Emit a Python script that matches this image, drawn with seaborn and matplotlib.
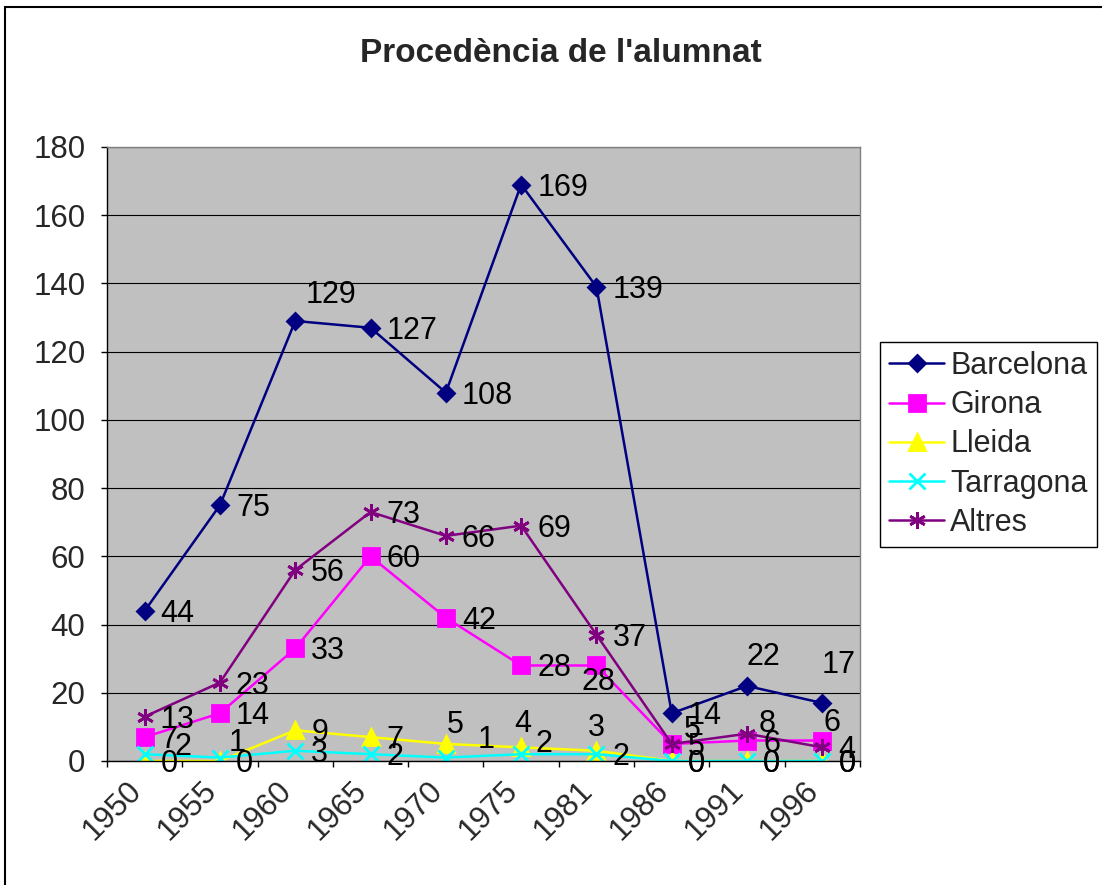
import numpy as np
import pandas as pd
import matplotlib
matplotlib.use('Agg')
import matplotlib.pyplot as plt
import matplotlib.patches as mpatches
from matplotlib.transforms import ScaledTranslation
import seaborn as sns

# Data
years = ['1950', '1955', '1960', '1965', '1970', '1975', '1981', '1986', '1991', '1996']
barcelona = [44, 75, 129, 127, 108, 169, 139, 14, 22, 17]
girona = [7, 14, 33, 60, 42, 28, 28, 5, 6, 6]
lleida = [0, 0, 9, 7, 5, 4, 3, 0, 0, 0]
tarragona = [2, 1, 3, 2, 1, 2, 2, 0, 0, 0]
altres = [13, 23, 56, 73, 66, 69, 37, 5, 8, 4]

series_names = ['Barcelona', 'Girona', 'Lleida', 'Tarragona', 'Altres']
series_values = [barcelona, girona, lleida, tarragona, altres]

colors = {'Barcelona': '#000080', 'Girona': '#FF00FF', 'Lleida': '#FFFF00',
          'Tarragona': '#00FFFF', 'Altres': '#800080'}
markers = {'Barcelona': 'D', 'Girona': 's', 'Lleida': '^', 'Tarragona': 'x', 'Altres': (6, 2, 0)}
msizes = {'Barcelona': 8, 'Girona': 11, 'Lleida': 11, 'Tarragona': 11, 'Altres': 12}

# long format table
rows = []
for name, vals in zip(series_names, series_values):
    for i, v in enumerate(vals):
        rows.append({'pos': i, 'year': years[i], 'serie': name, 'value': v})
df = pd.DataFrame(rows)

sns.set_theme(style='white')
plt.rcParams['font.family'] = ['Liberation Sans', 'DejaVu Sans']

fig = plt.figure(figsize=(11.02, 8.85), dpi=100)
ax = fig.add_axes([107 / 1102, 1 - 761 / 885, (860 - 107) / 1102, (761 - 147) / 885])
ax.set_facecolor('#C0C0C0')

for name in series_names:
    sub = df[df['serie'] == name]
    sns.lineplot(data=sub, x='pos', y='value', ax=ax, color=colors[name],
                 marker=markers[name], markersize=msizes[name],
                 markeredgecolor=colors[name], markerfacecolor=colors[name],
                 markeredgewidth=2, linewidth=1.8, label=name, legend=False)

# data labels: default to the right, some moved (offsets in pixels)
px = 0.72
overrides = {
    ('Barcelona', 2): (10, 26, 'left'),
    ('Barcelona', 8): (16, 29, 'center'),
    ('Barcelona', 9): (16, 38, 'center'),
    ('Girona', 6): (2, -17, 'center'),
    ('Girona', 9): (10, 18, 'center'),
    ('Altres', 7): (12, 14, 'left'),
    ('Altres', 8): (12, 10, 'left'),
    ('Lleida', 4): (9, 19, 'center'),
    ('Lleida', 5): (2, 23, 'center'),
    ('Lleida', 6): (0, 23, 'center'),
    ('Tarragona', 0): (30, 7, 'left'),
    ('Tarragona', 1): (9, 15, 'left'),
    ('Tarragona', 4): (32, 18, 'left'),
    ('Tarragona', 5): (14, 10, 'left'),
}
for name, vals in zip(series_names, series_values):
    for i, v in enumerate(vals):
        dx, dy, ha = overrides.get((name, i), (16, -3, 'left'))
        ax.annotate(str(v), (i, v), xytext=(dx * px, dy * px), textcoords='offset points',
                    ha=ha, va='center', fontsize=22, color='black', annotation_clip=False)

ax.set_xlim(-0.5, len(years) - 0.5)
ax.set_ylim(0, 180)
ax.set_yticks(np.arange(0, 181, 20))
ax.tick_params(axis='y', labelsize=22.5, length=4.5, width=1, pad=11, left=True, color='black')
ax.set_xticks(np.arange(len(years)))
ax.set_xticklabels(years, rotation=45, ha='right', va='center', rotation_mode='anchor', fontsize=22.5)
ax.set_xticks(np.arange(-0.5, len(years), 1), minor=True)
ax.tick_params(axis='x', which='major', length=0, pad=18)
ax.tick_params(axis='x', which='minor', length=4.5, width=1, bottom=True, color='black')
for lab in ax.get_xticklabels():
    lab.set_transform(lab.get_transform() + ScaledTranslation(-8 / 100, 0, fig.dpi_scale_trans))
ax.set_xlabel('')
ax.set_ylabel('')

ax.yaxis.grid(True, color='black', linewidth=0.8)
ax.xaxis.grid(False)
ax.set_axisbelow(True)
for side in ['left', 'bottom']:
    ax.spines[side].set_color('black')
    ax.spines[side].set_linewidth(1)
for side in ['top', 'right']:
    ax.spines[side].set_color('#808080')
    ax.spines[side].set_linewidth(1)

leg = ax.legend(loc='upper left', bbox_to_anchor=(880 / 1102, 1 - 342 / 885),
                bbox_transform=fig.transFigure, fontsize=22, frameon=True, fancybox=False,
                edgecolor='black', framealpha=1, borderaxespad=0, handlelength=1.8,
                handletextpad=0.2, labelspacing=0.3, borderpad=0.3)
leg.get_frame().set_linewidth(1)

fig.text(0.509, 1 - 54 / 885, "Procedència de l'alumnat", ha='center', va='center',
         fontsize=24, fontweight='bold')

# chart area border
fig.patches.append(mpatches.Rectangle((5 / 1102, -0.1), 1.2, 1 - 7 / 885 + 0.1,
                                      transform=fig.transFigure, fill=False,
                                      edgecolor='black', linewidth=1.5))

fig.savefig('out.png', dpi=100)
